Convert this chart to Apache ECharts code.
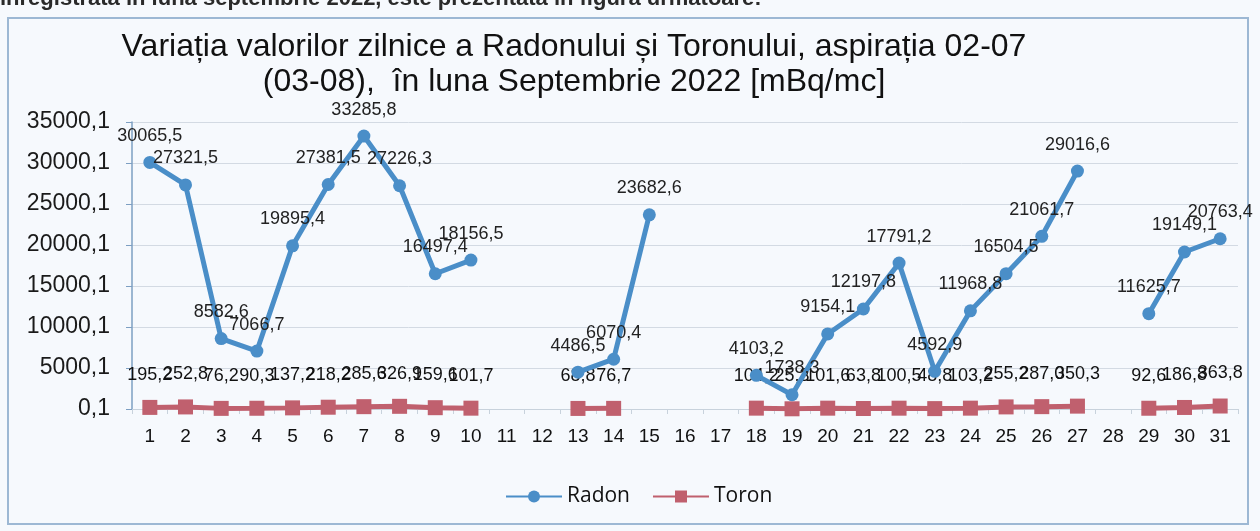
<!DOCTYPE html>
<html><head><meta charset="utf-8">
<script src="https://cdn.jsdelivr.net/npm/echarts@6/dist/echarts.min.js"></script>
<style>html,body{margin:0;padding:0;background:#f6f9fd;}#c{width:1260px;height:531px;}</style>
</head><body><div id="c"></div>
<script>
var days = ['1','2','3','4','5','6','7','8','9','10','11','12','13','14','15','16','17','18','19','20','21','22','23','24','25','26','27','28','29','30','31'];
var radon = [30065.5,27321.5,8582.6,7066.7,19895.4,27381.5,33285.8,27226.3,16497.4,18156.5,null,null,4486.5,6070.4,23682.6,null,null,4103.2,1738.3,9154.1,12197.8,17791.2,4592.9,11968.8,16504.5,21061.7,29016.6,null,11625.7,19149.1,20763.4];
var toron = [195.2,252.8,76.2,90.3,137.2,218.2,285.6,326.9,159.6,101.7,null,null,68.8,76.7,null,null,null,104.2,25.3,101.6,63.8,100.5,48.8,103.2,255.2,287.0,350.3,null,92.6,186.8,363.8];
var yTicks = [0,5000,10000,15000,20000,25000,30000,35000];

function fmt(v){ return (Math.round(v*10)/10).toFixed(1).replace('.', ','); }

var chart = echarts.init(document.getElementById('c'));
chart.setOption({
  backgroundColor: '#f6f9fd',
  animation: false,
  graphic: [
    {type:'text', left: 0, top: -12, style:{text:'înregistrată în luna septembrie 2022, este prezentată în figura următoare:', font:'bold 22px "Liberation Sans", Arial, sans-serif', fill:'#2a2a2a'}},
    {type:'rect', shape:{x:8, y:18, width:1240, height:506}, style:{fill:'none', stroke:'#9db8d4', lineWidth:2}, z:-1},
    {type:'text', x: 574, y: 30, style:{text:'Variația valorilor zilnice a Radonului și Toronului, aspirația 02-07\n(03-08),  în luna Septembrie 2022 [mBq/mc]', font:'32px "Liberation Sans", Arial, sans-serif', fill:'#111', align:'center', lineHeight:35}}
  ],
  grid: {left: 132, right: 22, top: 122, bottom: 122},
  legend: {
    data: ['Radon','Toron'], top: 481, left: 500, itemWidth: 56, itemHeight: 15, itemGap: 22,
    textStyle: {fontSize: 21, color: '#111', fontFamily: '"Open Sans", "Liberation Sans", sans-serif'}
  },
  xAxis: {
    type: 'category', data: days, boundaryGap: true,
    axisLine: {lineStyle: {color: '#c8d2dc'}},
    axisTick: {show: true, lineStyle: {color: '#c8d2dc'}, length: 5},
    axisLabel: {fontSize: 19, color: '#111', fontFamily: '"Liberation Sans Narrow", "Arial Narrow", sans-serif', margin: 18}
  },
  yAxis: {
    type: 'value', min: 0, max: 35000, interval: 5000,
    axisLine: {show: true, lineStyle: {color: '#7d9fc2', width: 1.5}},
    axisTick: {show: true, length: 6, lineStyle: {color: '#7d9fc2'}},
    splitLine: {lineStyle: {color: '#d3dae3'}},
    axisLabel: {fontSize: 23, color: '#1a1a1a', margin: 22, fontFamily: '"Liberation Sans", Arial, sans-serif',
      formatter: function(v){ return fmt(v + 0.1); }}
  },
  series: [
    {name: 'Radon', type: 'line', data: radon, symbol: 'circle', symbolSize: 13,
     lineStyle: {color: '#4a8ec8', width: 5}, itemStyle: {color: '#4a8ec8'},
     label: {show: true, position: 'top', distance: 11, fontSize: 18, color: '#222', fontFamily: '"Liberation Sans", Arial, sans-serif',
       formatter: function(p){ return fmt(p.value); }}, z: 3},
    {name: 'Toron', type: 'line', data: toron, symbol: 'rect', symbolSize: 15,
     lineStyle: {color: '#c0606e', width: 5}, itemStyle: {color: '#c0606e'},
     label: {show: true, position: 'top', distance: 16, fontSize: 18, color: '#111', fontFamily: '"Liberation Sans", Arial, sans-serif',
       formatter: function(p){ return fmt(p.value); }}, z: 2}
  ]
});
</script></body></html>
